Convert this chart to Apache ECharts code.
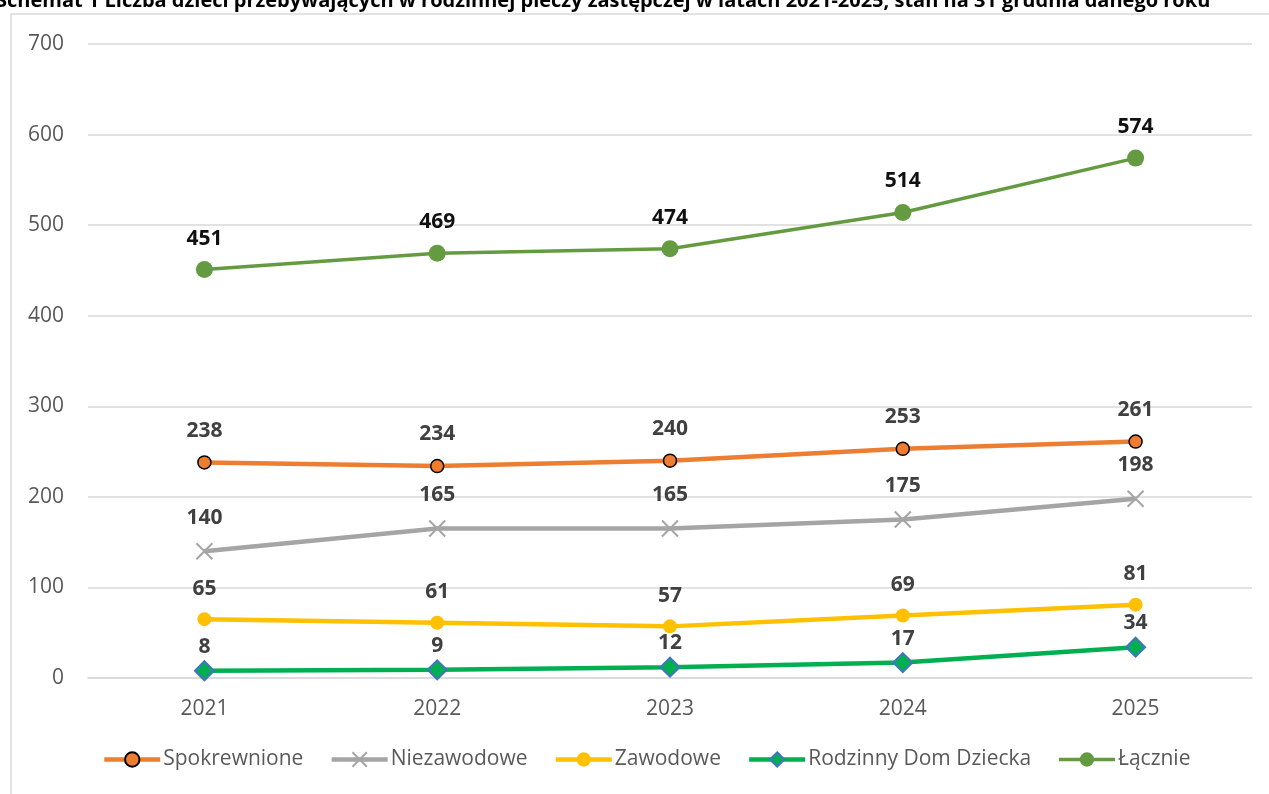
<!DOCTYPE html>
<html lang="pl">
<head>
    <meta charset="UTF-8">
    <title>Schemat 1</title>
    <script src="https://cdn.jsdelivr.net/npm/echarts@6/dist/echarts.min.js"></script>
    <style>
        html, body { margin: 0; padding: 0; background: #fff; }
    </style>
</head>
<body>
<div id="main" style="width:1269px;height:794px;"></div>
<script type="text/javascript">
    // dane
    var years = ['2021', '2022', '2023', '2024', '2025'];
    var spokrewnione = [238, 234, 240, 253, 261];
    var niezawodowe = [140, 165, 165, 175, 198];
    var zawodowe = [65, 61, 57, 69, 81];
    var rdd = [8, 9, 12, 17, 34];
    var lacznie = [451, 469, 474, 514, 574];

    var FONT = '"Open Sans", "Noto Sans", sans-serif';

    var myChart = echarts.init(document.getElementById('main'));

    function lbl(dist, color) {
        return {
            show: true,
            position: 'top',
            distance: dist,
            fontFamily: FONT,
            fontWeight: 'bold',
            fontSize: 21,
            color: color || '#404040'
        };
    }

    myChart.setOption({
        animation: false,
        title: {
            text: 'Schemat 1 Liczba dzieci przebywających w rodzinnej pieczy zastępczej w latach 2021-2025, stan na 31 grudnia danego roku',
            left: -4,
            top: -9,
            padding: 0,
            textStyle: { fontFamily: FONT, fontWeight: 'bold', fontSize: 20, color: '#000' }
        },
        graphic: [{
            type: 'rect',
            shape: { x: 11, y: 14, width: 1300, height: 800 },
            style: { fill: 'none', stroke: '#D9D9D9', lineWidth: 1.5 },
            silent: true,
            z: -1
        }],
        grid: { left: 88, right: 17, top: 44, bottom: 116 },
        legend: {
            left: 97,
            top: 744,
            itemWidth: 56,
            itemHeight: 18,
            itemGap: 26,
            textStyle: { fontFamily: FONT, fontSize: 21, color: '#595959', padding: [0, 0, 0, -2] },
            data: [
                { name: 'Spokrewnione', lineStyle: { width: 4.5 } },
                { name: 'Niezawodowe', lineStyle: { width: 4.5 } },
                { name: 'Zawodowe', lineStyle: { width: 4.5 } },
                { name: 'Rodzinny Dom Dziecka', lineStyle: { width: 4.5 } },
                { name: 'Łącznie', lineStyle: { width: 3.5 } }
            ]
        },
        xAxis: {
            type: 'category',
            data: years,
            boundaryGap: true,
            axisLine: { show: true, lineStyle: { color: '#D9D9D9', width: 1.5 } },
            axisTick: { show: false },
            axisLabel: { fontFamily: FONT, fontSize: 21, color: '#595959', margin: 21 }
        },
        yAxis: {
            type: 'value',
            min: 0,
            max: 700,
            interval: 100,
            axisLine: { show: false },
            axisTick: { show: false },
            axisLabel: { fontFamily: FONT, fontSize: 21, color: '#595959', margin: 24 },
            splitLine: { lineStyle: { color: '#D9D9D9', width: 1.5 } }
        },
        series: [
            {
                name: 'Spokrewnione',
                type: 'line',
                data: spokrewnione,
                symbol: 'circle',
                symbolSize: 13,
                lineStyle: { color: '#ED7D31', width: 4.5 },
                itemStyle: { color: '#ED7D31', borderColor: '#000', borderWidth: 1.5 },
                label: lbl(14),
                z: 4
            },
            {
                name: 'Niezawodowe',
                type: 'line',
                data: niezawodowe,
                symbol: 'path://M0,0 L10,10 M10,0 L0,10',
                symbolSize: 16,
                lineStyle: { color: '#A5A5A5', width: 4.5 },
                itemStyle: { color: '#A5A5A5', borderColor: '#A5A5A5', borderWidth: 2 },
                label: lbl(14),
                z: 3
            },
            {
                name: 'Zawodowe',
                type: 'line',
                data: zawodowe,
                symbol: 'circle',
                symbolSize: 14,
                lineStyle: { color: '#FFC000', width: 4.5 },
                itemStyle: { color: '#FFC000', borderWidth: 0 },
                label: lbl(13),
                z: 3
            },
            {
                name: 'Rodzinny Dom Dziecka',
                type: 'line',
                data: rdd,
                symbol: 'diamond',
                symbolSize: 19,
                lineStyle: { color: '#00B050', width: 4.5 },
                itemStyle: { color: '#00B050', borderColor: '#4472C4', borderWidth: 2 },
                label: lbl(3),
                z: 3
            },
            {
                name: 'Łącznie',
                type: 'line',
                data: lacznie,
                symbol: 'circle',
                symbolSize: 17,
                lineStyle: { color: '#649B40', width: 3.5 },
                itemStyle: { color: '#649B40', borderWidth: 0 },
                label: lbl(12, '#111'),
                z: 3
            }
        ]
    });
</script>
</body>
</html>
